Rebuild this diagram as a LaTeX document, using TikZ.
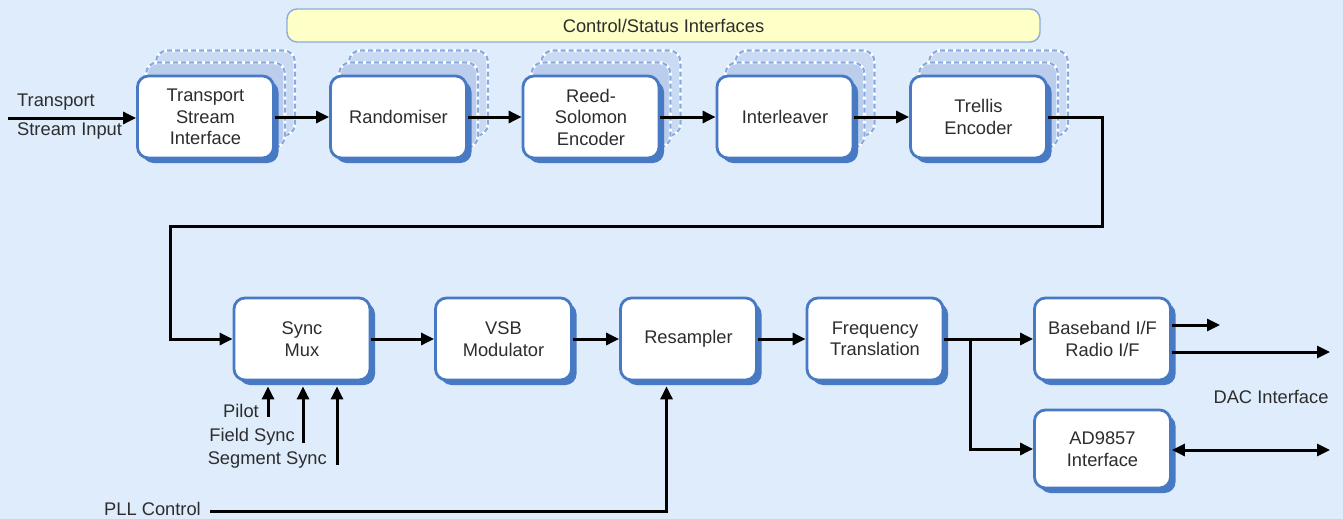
\documentclass[tikz,border=0pt]{standalone}
\usepackage{fontspec}
\setmainfont{Liberation Sans}
\usetikzlibrary{arrows.meta,shadows}
\definecolor{bgblue}{RGB}{222,236,252}
\definecolor{boxblue}{RGB}{72,122,196}
\definecolor{layerfill}{RGB}{186,205,236}
\definecolor{layerfillb}{RGB}{202,218,243}
\definecolor{layerline}{RGB}{135,170,225}
\definecolor{ctlfill}{RGB}{255,255,200}
\definecolor{ctlline}{RGB}{140,172,220}
\definecolor{txt}{RGB}{45,45,45}
\pgfdeclarelayer{bgl}
\pgfdeclarelayer{backl}
\pgfsetlayers{bgl,backl,main}
\begin{document}
\begin{tikzpicture}[x=1pt,y=-1pt,
  every node/.style={text=txt,font=\fontsize{18.3}{21.5}\selectfont},
  blk/.style={draw=boxblue,line width=2.8pt,fill=white,rounded corners=11pt,
    minimum width=136pt,minimum height=82pt,inner sep=0pt,align=center,
    drop shadow={shadow xshift=5pt,shadow yshift=-5pt,fill=boxblue,opacity=1}},
  arr/.style={line width=3pt,-{Triangle[length=13pt,width=12pt]}},
  dbl/.style={line width=3pt,{Triangle[length=13pt,width=12pt]}-{Triangle[length=13pt,width=12pt]}},
  lbl/.style={inner sep=0pt},
  layerA/.style={fill=layerfillb,draw=white,line width=3pt,rounded corners=11pt},
  layerB/.style={fill=layerfill,draw=white,line width=3pt,rounded corners=11pt},
  layerdash/.style={draw=layerline,line width=2.2pt,dash pattern=on 5pt off 3pt,rounded corners=11pt}
]
\begin{pgfonlayer}{bgl}
\fill[bgblue] (0,0) rectangle (1343,519);
\end{pgfonlayer}
\useasboundingbox (0,0) rectangle (1343,519);

% control/status bar
\node[draw=ctlline,fill=ctlfill,line width=1.4pt,rounded corners=10pt,
  minimum width=753pt,minimum height=33pt,inner sep=0pt] (ctl) at (663.5,25.5) {Control/Status Interfaces};

% top row
\node[blk] (tsi) at (205.5,117) {Transport\\Stream\\Interface};
\node[blk] (rnd) at (398.5,117) {Randomiser};
\node[blk] (rs)  at (591,117) {Reed-\\Solomon\\Encoder};
\node[blk] (il)  at (785,117) {Interleaver};
\node[blk] (tre) at (978.5,117) {Trellis\\Encoder};

% stacked copies behind the top row
\begin{pgfonlayer}{backl}
\foreach \n in {tsi,rnd,rs,il,tre}{
  \path[layerA] ([shift={(20,-24)}]\n.south west) rectangle ([shift={(20,-24)}]\n.north east);
  \path[layerdash] ([shift={(20,-24)}]\n.south west) rectangle ([shift={(20,-24)}]\n.north east);
  \path[layerB] ([shift={(10,-12)}]\n.south west) rectangle ([shift={(10,-12)}]\n.north east);
  \path[layerdash] ([shift={(10,-12)}]\n.south west) rectangle ([shift={(10,-12)}]\n.north east);
}
\end{pgfonlayer}

% bottom row
\node[blk] (smx) at (302,339) {Sync\\Mux};
\node[blk] (vsb) at (503.5,339) {VSB\\Modulator};
\node[blk] (res) at (688.5,339) {Resampler};
\node[blk] (frq) at (875,339) {Frequency\\Translation};
\node[blk] (bb)  at (1102.5,339) {Baseband I/F\\Radio I/F};
\node[blk,minimum height=78pt] (ad) at (1102.5,449) {AD9857\\Interface};

% labels
\node[lbl,anchor=west,align=left] (tin1) at (17,102) {Transport};
\node[lbl,anchor=west,align=left] (tin2) at (17,131) {Stream Input};
\node[lbl,anchor=east] (pil) at (259,411) {Pilot};
\node[lbl,anchor=east] (fsy) at (295,437) {Field Sync};
\node[lbl,anchor=east] (ssy) at (327,460) {Segment Sync};
\node[lbl,anchor=east] (pllt) at (201,509) {PLL Control};
\node[lbl] (dac) at (1271,397) {DAC Interface};

% coordinates
\coordinate (inS) at (8,118);
\coordinate (c1) at (1102,226);
\coordinate (c2) at (170,226);
\coordinate (j) at (970,339);
\coordinate (o1) at (1220,325);
\coordinate (o2) at (1330,352);
\coordinate (o3) at (1330,450);
\coordinate (p1) at (268,417);
\coordinate (p2) at (303,443);
\coordinate (p3) at (337,465);
\coordinate (pll) at (210,511);
\coordinate (sb) at ([yshift=-5pt]smx.south);
\coordinate (rb) at ([shift={(-22,5)}]res.south);

% top connectors
\draw[arr] (inS) -- (inS -| tsi.west);
\draw[arr] (tsi.east) -- (rnd.west);
\draw[arr] (rnd.east) -- (rs.west);
\draw[arr] (rs.east) -- (il.west);
\draw[arr] (il.east) -- (tre.west);
\draw[arr] (tre.east) -| (c1) -- (c2) |- (smx.west);

% bottom connectors
\draw[arr] (smx.east) -- (vsb.west);
\draw[arr] (vsb.east) -- (res.west);
\draw[arr] (res.east) -- (frq.west);
\draw[arr] (frq.east) -- (bb.west);
\draw[arr] (j) |- (ad.west);
\draw[arr] (bb.east |- o1) -- (o1);
\draw[arr] (bb.east |- o2) -- (o2);
\draw[dbl] (ad.east |- o3) -- (o3);

% sync inputs
\draw[arr] (p1) -- (p1 |- sb);
\draw[arr] (p2) -- (p2 |- sb);
\draw[arr] (p3) -- (p3 |- sb);

% PLL control
\draw[arr] (pll) -| (rb);
\end{tikzpicture}
\end{document}
